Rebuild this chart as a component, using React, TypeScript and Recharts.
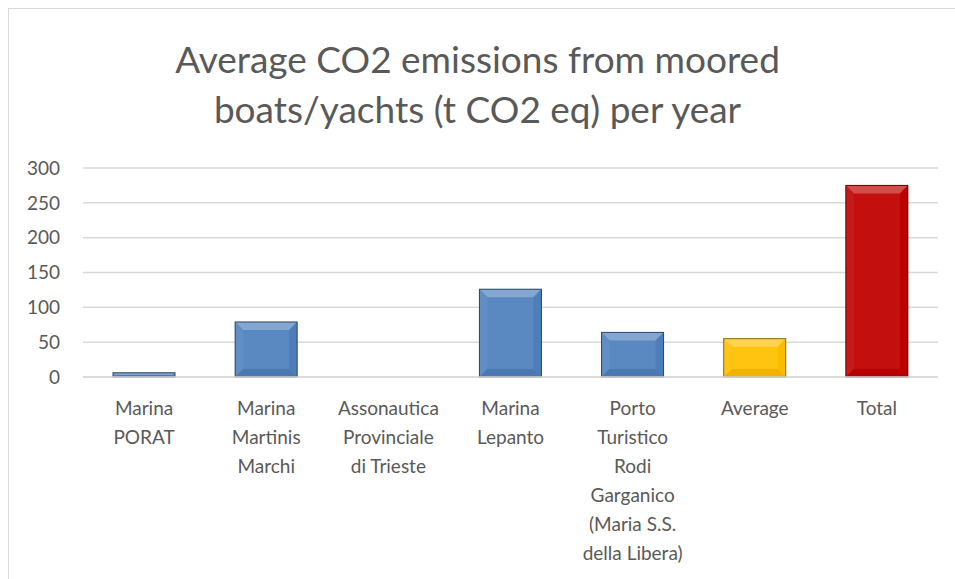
import React from "react";
import { BarChart, Bar, XAxis, YAxis, CartesianGrid } from "recharts";

const categories: string[][] = [
  ["Marina", "PORAT"],
  ["Marina", "Martinis", "Marchi"],
  ["Assonautica", "Provinciale", "di Trieste"],
  ["Marina", "Lepanto"],
  ["Porto", "Turistico", "Rodi", "Garganico", "(Maria S.S.", "della Libera)"],
  ["Average"],
  ["Total"],
];
const values: number[] = [6, 79, 0, 126, 64, 55, 275];
const yTicks: number[] = [0, 50, 100, 150, 200, 250, 300];
const titleLines: string[] = ["Average CO2 emissions from moored", "boats/yachts (t CO2 eq) per year"];

const barColors: string[] = ["#4F81BD", "#4F81BD", "#4F81BD", "#4F81BD", "#4F81BD", "#FFC000", "#C00000"];

const data = categories.map((c, i) => ({ cat: "c" + i, value: values[i] }));

const FONT = "Lato, 'Open Sans', sans-serif";
const TEXT = "#595959";

function shade(hex: string, amt: number): string {
  const n = parseInt(hex.slice(1), 16);
  let r = (n >> 16) & 255, g = (n >> 8) & 255, b = n & 255;
  const f = (v: number) => {
    const o = amt >= 0 ? v + (255 - v) * amt : v * (1 + amt);
    return Math.max(0, Math.min(255, Math.round(o)));
  };
  r = f(r); g = f(g); b = f(b);
  return "#" + ((1 << 24) + (r << 16) + (g << 8) + b).toString(16).slice(1);
}

function renderBar(props: any) {
  const x = Number(props.x), y = Number(props.y), width = Number(props.width), height = Number(props.height);
  const base: string = barColors[props.index] || "#4F81BD";
  if (!(height > 0) || !(width > 0)) return <g />;
  const light = shade(base, 0.3);
  const dark = shade(base, -0.45);
  const b = Math.min(8, height / 2, width / 2);
  return (
    <g>
      <rect x={x} y={y} width={width} height={height} fill={shade(base, 0.06)} />
      <polygon points={`${x},${y} ${x + width},${y} ${x + width - b},${y + b} ${x + b},${y + b}`} fill={light} />
      <polygon points={`${x},${y} ${x + b},${y + b} ${x + b},${y + height - b} ${x},${y + height}`} fill={shade(base, 0.1)} />
      <polygon points={`${x + width},${y} ${x + width - b},${y + b} ${x + width - b},${y + height - b} ${x + width},${y + height}`} fill={shade(base, -0.02)} />
      <polygon points={`${x},${y + height} ${x + b},${y + height - b} ${x + width - b},${y + height - b} ${x + width},${y + height}`} fill={shade(base, -0.06)} />
      <rect x={x} y={y} width={width} height={height} fill="none" stroke={dark} strokeWidth={1} />
    </g>
  );
}

const XTick = (props: any) => {
  const { x, y, payload } = props;
  const idx = Number(String(payload.value).slice(1));
  const lines = categories[idx] || [];
  return (
    <g>
      {lines.map((l, i) => (
        <text key={i} x={x} y={y + 30 + i * 29} textAnchor="middle" fill={TEXT} fontSize={19} fontFamily={FONT}>
          {l}
        </text>
      ))}
    </g>
  );
};

export default function App() {
  return (
    <div style={{ position: "absolute", left: 0, top: 0, width: 955, height: 579, background: "#fff", overflow: "hidden" }}>
      <div style={{ position: "absolute", left: 8, top: 8, width: 960, height: 580, border: "1px solid #d9d9d9", boxSizing: "border-box" }} />
      {titleLines.map((t, i) => (
        <div
          key={i}
          style={{
            position: "absolute",
            left: 0,
            width: 955,
            top: 35 + i * 50,
            textAlign: "center",
            fontFamily: FONT,
            fontSize: 37,
            color: TEXT,
            lineHeight: "48px",
            whiteSpace: "nowrap",
          }}
        >
          {t}
        </div>
      ))}
      <div style={{ position: "absolute", left: 0, top: 0 }}>
        <BarChart width={955} height={579} data={data} margin={{ top: 168, right: 17, bottom: 12, left: 0 }}>
          <CartesianGrid vertical={false} stroke="#d9d9d9" strokeWidth={1.5} />
          <YAxis
            width={83}
            domain={[0, 300]}
            ticks={yTicks}
            axisLine={false}
            tickLine={false}
            tickSize={0}
            tickMargin={23}
            tick={{ fill: TEXT, fontSize: 19, fontFamily: FONT }}
          />
          <XAxis dataKey="cat" height={190} axisLine={{ stroke: "#d9d9d9", strokeWidth: 1.5 }} tickLine={false} tick={<XTick />} interval={0} />
          <Bar dataKey="value" isAnimationActive={false} barSize={62} shape={renderBar} />
        </BarChart>
      </div>
    </div>
  );
}
